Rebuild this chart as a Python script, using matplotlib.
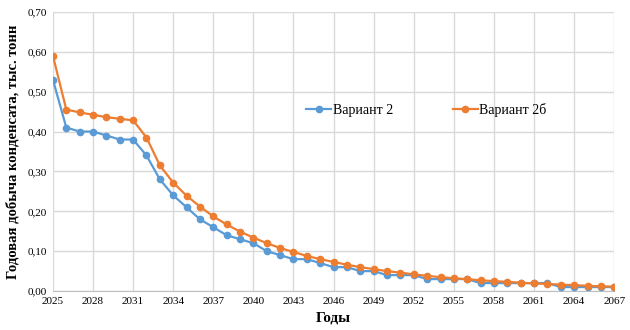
import numpy as np
import matplotlib.pyplot as plt
from matplotlib.ticker import FuncFormatter

# === Data ===
years = list(range(2025, 2068))
variant_2 = [0.53, 0.41, 0.40, 0.40, 0.39, 0.38, 0.38, 0.34, 0.28, 0.24,
             0.21, 0.18, 0.16, 0.14, 0.13, 0.12, 0.10, 0.09, 0.08, 0.08,
             0.07, 0.06, 0.06, 0.05, 0.05, 0.04, 0.04, 0.04, 0.03, 0.03,
             0.03, 0.03, 0.02, 0.02, 0.02, 0.02, 0.02, 0.02, 0.01, 0.01,
             0.01, 0.01, 0.01]
variant_2b = [0.59, 0.455, 0.448, 0.442, 0.436, 0.432, 0.428, 0.385, 0.315, 0.272,
              0.239, 0.212, 0.187, 0.167, 0.149, 0.134, 0.120, 0.108, 0.098, 0.088,
              0.080, 0.073, 0.066, 0.060, 0.055, 0.050, 0.046, 0.042, 0.038, 0.035,
              0.032, 0.030, 0.027, 0.025, 0.023, 0.021, 0.019, 0.018, 0.016, 0.015,
              0.013, 0.012, 0.011]
xticks = list(range(2025, 2068, 3))
yticks = [0.0, 0.1, 0.2, 0.3, 0.4, 0.5, 0.6, 0.7]

plt.rcParams['font.family'] = ['Liberation Serif', 'DejaVu Serif']

fig = plt.figure(figsize=(6.3, 3.3), dpi=100)
ax = fig.add_axes([0.084, 0.118, 0.891, 0.846])

ax.plot(years, variant_2, color='#5B9BD5', marker='o', markersize=4.5,
        linewidth=1.6, label='Вариант 2', zorder=3)
ax.plot(years, variant_2b, color='#ED7D31', marker='o', markersize=4.5,
        linewidth=1.6, label='Вариант 2б', zorder=3)

ax.set_xlim(2025, 2067)
ax.set_ylim(0, 0.7)
ax.set_xticks(xticks)
ax.set_yticks(yticks)
ax.yaxis.set_major_formatter(FuncFormatter(lambda v, p: f'{v:.2f}'.replace('.', ',')))
ax.tick_params(length=0, labelsize=8, pad=4)
ax.grid(True, color='#D9D9D9', linewidth=1)
ax.set_axisbelow(True)
for side in ['top', 'right', 'left']:
    ax.spines[side].set_visible(False)
ax.spines['bottom'].set_color('#BFBFBF')

ax.set_xlabel('Годы', fontsize=11, fontweight='bold', labelpad=4)
ax.set_ylabel('Годовая добыча конденсата, тыс. тонн', fontsize=10.5,
              fontweight='bold', labelpad=6)

ax.legend(loc='center', bbox_to_anchor=(0.665, 0.65), ncol=2, frameon=False,
          fontsize=10, handlelength=1.8, columnspacing=4.3, handletextpad=0.1)

fig.savefig('out.png', dpi=100)
